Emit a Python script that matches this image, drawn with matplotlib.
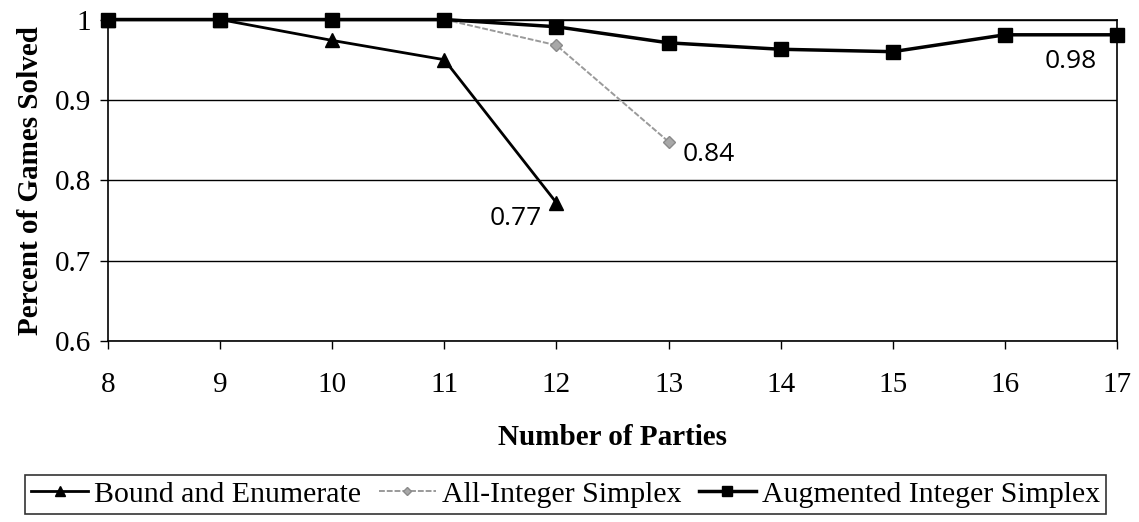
import matplotlib
matplotlib.use('agg')
import matplotlib.pyplot as plt

plt.rcParams['font.family'] = ['Liberation Serif', 'DejaVu Serif']

# data
parties = [8, 9, 10, 11, 12, 13, 14, 15, 16, 17]
bound_x = [8, 9, 10, 11, 12]
bound_y = [1.0, 1.0, 0.974, 0.950, 0.772]
allint_x = [11, 12, 13]
allint_y = [1.0, 0.968, 0.848]
aug_x = [8, 9, 10, 11, 12, 13, 14, 15, 16, 17]
aug_y = [1.0, 1.0, 1.0, 1.0, 0.991, 0.971, 0.963, 0.960, 0.981, 0.981]
yticks = [0.6, 0.7, 0.8, 0.9, 1.0]
ytick_labels = ['0.6', '0.7', '0.8', '0.9', '1']

fig = plt.figure(figsize=(11.39, 5.22), dpi=100)
ax = fig.add_axes([0.0948, 0.3467, 0.8859, 0.6159])

ax.plot(bound_x, bound_y, color='black', lw=2, marker='^', ms=10,
        label='Bound and Enumerate', clip_on=False, zorder=3)
ax.plot(allint_x, allint_y, color='#9a9a9a', lw=1.4, ls=(0, (3, 1)), marker='D', ms=6,
        mfc='#a8a8a8', mec='#8a8a8a', label='All-Integer Simplex', clip_on=False, zorder=4)
ax.plot(aug_x, aug_y, color='black', lw=2.5, marker='s', ms=10.5,
        label='Augmented Integer Simplex', clip_on=False, zorder=5)

# value labels
sans = ['Open Sans', 'DejaVu Sans']
ax.annotate('0.77', (12, 0.772), textcoords='offset points', xytext=(-29, -11),
            ha='center', va='center', fontsize=19, family=sans)
ax.annotate('0.84', (13, 0.848), textcoords='offset points', xytext=(29, -9),
            ha='center', va='center', fontsize=19, family=sans)
ax.annotate('0.98', (17, 0.981), textcoords='offset points', xytext=(-33, -19),
            ha='center', va='center', fontsize=19, family=sans)

ax.set_xlim(8, 17)
ax.set_ylim(0.6, 1.0)
ax.set_xticks(parties)
ax.set_yticks(yticks)
ax.set_yticklabels(ytick_labels)
ax.tick_params(axis='both', labelsize=21, direction='out', length=6, width=1, color='black')
ax.tick_params(axis='x', pad=16)
ax.tick_params(axis='y', pad=6)
ax.yaxis.grid(True, color='black', lw=1)
ax.set_axisbelow(True)
for s in ax.spines.values():
    s.set_color('black')
    s.set_linewidth(1.2)

ax.set_xlabel('Number of Parties', fontsize=21, fontweight='bold', labelpad=19)
ax.set_ylabel('Percent of Games Solved', fontsize=21, fontweight='bold', labelpad=8)

leg = fig.legend(loc='lower center', bbox_to_anchor=(0.4965, 0.01), ncol=3, fontsize=21.5,
                 frameon=True, fancybox=False, edgecolor='black', handlelength=1.9,
                 handletextpad=0.2, columnspacing=0.6, borderpad=0.2, markerscale=0.75,
                 borderaxespad=0.1)
leg.get_frame().set_linewidth(1.2)

fig.savefig('out.png', dpi=100)
